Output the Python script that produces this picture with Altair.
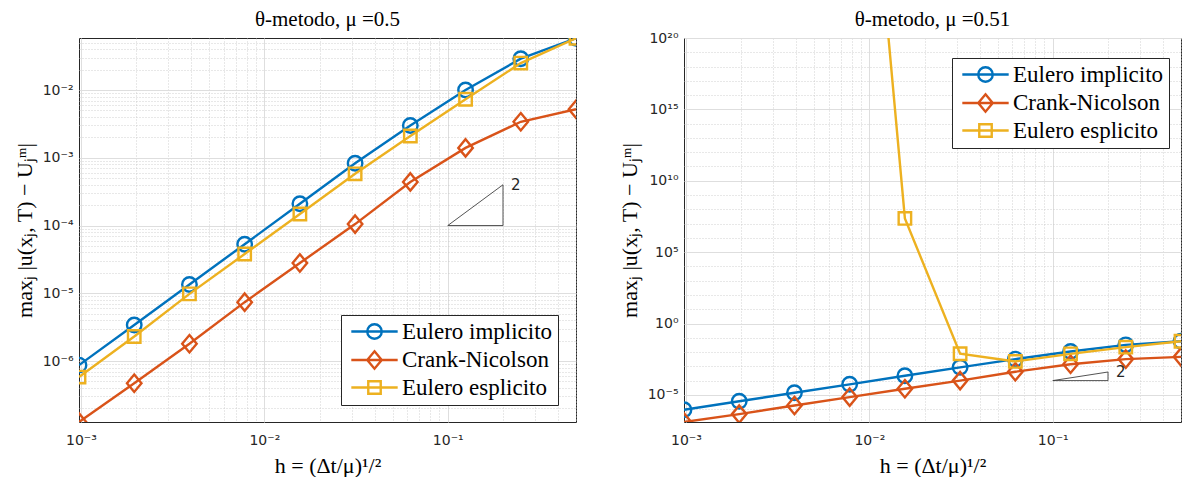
import altair as alt
import pandas as pd

# ---------------- data ----------------
H = [0.0009765625, 0.001953125, 0.00390625, 0.0078125, 0.015625,
     0.03125, 0.0625, 0.125, 0.25, 0.5]
SERIES = ["Eulero implicito", "Crank-Nicolson", "Eulero esplicito"]
COLORS = ["#0072BD", "#D95319", "#EDB120"]

# panel 1: mu = 0.5
ei_05 = [8.7e-7, 3.4e-6, 1.35e-5, 5.3e-5, 2.1e-4, 8.3e-4, 3.0e-3, 1.0e-2, 2.9e-2, 5.8e-2]
cn_05 = [1.26e-7, 4.7e-7, 1.8e-6, 7.4e-6, 2.8e-5, 1.05e-4, 4.4e-4, 1.4e-3, 3.4e-3, 5.2e-3]
ee_05 = [5.8e-7, 2.3e-6, 9.8e-6, 3.8e-5, 1.48e-4, 5.8e-4, 2.1e-3, 7.3e-3, 2.5e-2, 5.8e-2]

# panel 2: mu = 0.51
ei_051 = [9.0e-7, 3.6e-6, 1.4e-5, 5.5e-5, 2.2e-4, 8.5e-4, 3.2e-3, 1.1e-2, 3.2e-2, 5.7e-2]
cn_051 = [1.26e-7, 4.5e-7, 1.8e-6, 7.0e-6, 2.7e-5, 1.0e-4, 4.2e-4, 1.4e-3, 3.2e-3, 4.6e-3]
ee_051 = [1e300, 1e200, 1e110, 1e50, 2.3e7, 7.6e-3, 2.2e-3, 7.5e-3, 2.2e-2, 5.7e-2]

# slope triangle
TRI_H = [0.1, 0.2, 0.2, 0.1]
TRI_E = [1e-4, 1e-4, 4e-4, 1e-4]
SLOPE_LABEL = "2"

X_LABEL_EXPS = [-3, -2, -1]
Y1_LABEL_EXPS = [-6, -5, -4, -3, -2]
Y2_LABEL_EXPS = [-5, 0, 5, 10, 15, 20]

# ---------------- helpers ----------------
SUP = {'-': '\u207b', '0': '\u2070', '1': '\u00b9', '2': '\u00b2', '3': '\u00b3',
       '4': '\u2074', '5': '\u2075', '6': '\u2076', '7': '\u2077', '8': '\u2078', '9': '\u2079'}


def sup(n):
    return ''.join(SUP[c] for c in str(n))


LOG = "(log(datum.value)/LN10)"
RLOG = "round(log(datum.value)/LN10)"
IS_DEC = f"abs({LOG} - {RLOG}) < 1e-6"


def label_expr(exps):
    chain = " ".join(f"{RLOG} == {e} ? '10{sup(e)}' :" for e in exps) + " ''"
    return f"({IS_DEC}) ? ({chain}) : ''"


def grid_props(major_test):
    return dict(
        grid=True,
        gridDash={"condition": {"test": major_test, "value": []}, "value": [1, 2]},
        gridColor={"condition": {"test": major_test, "value": "#dedede"}, "value": "#c4c4c4"},
        gridWidth={"condition": {"test": major_test, "value": 1}, "value": 0.8},
    )


def minor_values(e_lo, e_hi, lo, hi, mults=range(1, 10)):
    out = []
    for e in range(e_lo, e_hi + 1):
        for m in mults:
            v = m * 10.0 ** e
            if lo * 0.9999 <= v <= hi * 1.0001:
                out.append(v)
    return out


CIRCLE = "circle"
DIAMOND = "M0,-1.2L1,0L0,1.2L-1,0Z"
SQUARE = "M-0.86,-0.86L0.86,-0.86L0.86,0.86L-0.86,0.86Z"
LINE = "M-3.2,0L3.2,0"
LEG_SHAPES = [LINE + "M-1,0A1,1,0,1,1,1,0A1,1,0,1,1,-1,0",
              LINE + "M0,-1.2L1,0L0,1.2L-1,0Z",
              LINE + "M-0.86,-0.86L0.86,-0.86L0.86,0.86L-0.86,0.86Z"]
SHAPES = [CIRCLE, DIAMOND, SQUARE]

SERIF = "Liberation Serif"
SANS = "DejaVu Sans"

W, HGT = 497, 384


def panel(title, data, ydom, yvals, y_major, y_label_exps, legx, legy, title_offset):
    rows = []
    for name, vals in zip(SERIES, data):
        for hv, v in zip(H, vals):
            rows.append({"h": hv, "err": v, "serie": name})
    df = pd.DataFrame(rows)
    tri = pd.DataFrame({"h": TRI_H, "err": TRI_E, "k": list(range(len(TRI_H)))})
    lab = pd.DataFrame({"h": [TRI_H[1]], "err": [TRI_E[2]], "t": [SLOPE_LABEL]})

    xvals = minor_values(-4, 0, H[0], H[-1])
    xaxis = alt.Axis(values=xvals, labelExpr=label_expr(X_LABEL_EXPS),
                     title="h = (\u0394t/\u03bc)\u00b9/\u00b2", ticks=False, domain=False,
                     labelPadding=11, titlePadding=8, labelFlush=False, labelOverlap=False,
                     **grid_props(IS_DEC))
    yaxis = alt.Axis(values=yvals, labelExpr=label_expr(y_label_exps),
                     title="max\u2c7c |u(x\u2c7c, T) \u2212 U\u2c7c\u1d50|", ticks=False, domain=False,
                     labelPadding=6, titlePadding=6, labelFlush=False, labelOverlap=False,
                     **grid_props(y_major))
    X = alt.X("h:Q", scale=alt.Scale(type="log", domain=[H[0], H[-1]], nice=False), axis=xaxis)
    Y = alt.Y("err:Q", scale=alt.Scale(type="log", domain=ydom, nice=False), axis=yaxis)

    cscale = alt.Scale(domain=SERIES, range=COLORS)
    layers = []
    for s in SERIES:
        base = alt.Chart(df).transform_filter(alt.datum.serie == s)
        layers.append(base.mark_line(strokeWidth=2.4, clip=True).encode(
            x=X, y=Y, color=alt.Color("serie:N", scale=cscale, legend=None)))
        layers.append(base.mark_point(filled=False, strokeWidth=2.4, size=210, opacity=1,
                                      clip=True).encode(
            x=X, y=Y,
            color=alt.Color("serie:N", scale=cscale, legend=None),
            shape=alt.Shape("serie:N", scale=alt.Scale(domain=SERIES, range=SHAPES), legend=None)))
    layers.append(alt.Chart(tri).mark_line(color="#404040", strokeWidth=0.9, clip=True).encode(
        x=X, y=Y, order="k:Q"))
    layers.append(alt.Chart(lab).mark_text(align="left", baseline="middle", dx=8, clip=True,
                                           font=SANS, fontSize=15, color="#262626").encode(
        x=X, y=Y, text="t:N"))
    leg = alt.Legend(title=None, orient="none", legendX=legx, legendY=legy,
                     fillColor="white", strokeColor="#262626", padding=5,
                     symbolSize=210, symbolStrokeWidth=2.4, symbolOpacity=1, symbolOffset=17,
                     labelFont=SERIF, labelFontSize=23, labelColor="black", labelOffset=16,
                     rowPadding=2.5, labelLimit=400)
    layers.append(alt.Chart(df).transform_filter(alt.datum.h == H[-1]).mark_point(
        opacity=0, filled=False, clip=True).encode(
        x=X, y=Y,
        color=alt.Color("serie:N", scale=cscale, legend=leg),
        shape=alt.Shape("serie:N", scale=alt.Scale(domain=SERIES, range=LEG_SHAPES), legend=leg)))

    return alt.layer(*layers).resolve_scale(color="independent", shape="independent").properties(
        width=W, height=HGT,
        title=alt.TitleParams(title, font=SERIF, fontSize=21, fontWeight="normal",
                              color="black", offset=title_offset, frame="group"))


y1dom = [1.26e-7, 0.0586]
y1vals = minor_values(-7, -2, y1dom[0], y1dom[1])
left = panel("\u03b8-metodo, \u03bc =0.5", [ei_05, cn_05, ee_05], y1dom, y1vals, IS_DEC,
             Y1_LABEL_EXPS, 262, 277, 6)

y2dom = [1.26e-7, 1e20]
y2vals = minor_values(-6, 20, y2dom[0], y2dom[1], mults=[1])
y2major = f"({IS_DEC}) && ({RLOG} % 5 == 0)"
right = panel("\u03b8-metodo, \u03bc =0.51", [ei_051, cn_051, ee_051], y2dom, y2vals, y2major,
              Y2_LABEL_EXPS, 268, 20, 1)

chart = alt.hconcat(left, right, spacing=40).properties(
    padding={"left": 4, "top": 0, "right": 0, "bottom": 0}
).configure_view(stroke="#262626", strokeWidth=1).configure_axis(
    labelFont=SANS, labelFontSize=14, labelColor="#262626",
    titleFont=SERIF, titleFontSize=22, titleFontWeight="normal", titleColor="black"
)

chart.save("out.html", embed_options={"renderer": "svg", "actions": False})
